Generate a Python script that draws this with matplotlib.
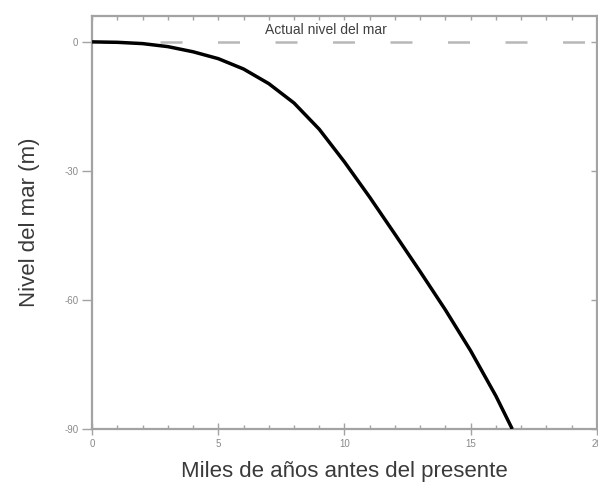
import numpy as np
import matplotlib.pyplot as plt
from matplotlib.ticker import MultipleLocator

# curva del nivel del mar (miles de años, metros)
edad = [0, 1, 2, 3, 4, 5, 6, 7, 8, 9, 10, 11, 12, 13, 14, 15, 16, 16.65]
nivel = [0, -0.1, -0.4, -1.1, -2.3, -3.9, -6.3, -9.7, -14.2, -20.3, -27.9, -36.1,
         -44.7, -53.4, -62.3, -71.8, -82.3, -90.0]

xticks = [0, 5, 10, 15, 20]
xlabels = ['0', '5', '10', '15', '20']
yticks = [0, -30, -60, -90]
ylabels = ['0', '-30', '-60', '-90']

gris = '#a3a3a3'
plt.rcParams['font.family'] = ['Liberation Sans', 'DejaVu Sans']

fig = plt.figure(figsize=(5.98, 4.87), dpi=100)
ax = fig.add_axes([0.154, 0.119, 0.844, 0.848])

ax.plot([0, 20], [0, 0], color='#b8b8b8', lw=1.8, linestyle=(18.8, (8.8, 14.2)), zorder=1)
ax.plot(edad, nivel, color='black', lw=2.5, solid_capstyle='butt',
        solid_joinstyle='round', zorder=3)
ax.text(9.25, 2.8, 'Actual nivel del mar', ha='center', va='center',
        fontsize=10, color='#404040')

ax.set_xlim(0, 20)
ax.set_ylim(-90, 6)
ax.set_xticks(xticks, xlabels)
ax.set_yticks(yticks, ylabels)
ax.xaxis.set_minor_locator(MultipleLocator(1))

for s in ax.spines.values():
    s.set_color(gris)
    s.set_linewidth(1.6)

ax.tick_params(axis='x', which='major', direction='inout', length=9, width=1, colors=gris,
               labelcolor='#8a8a8a', labelsize=7, pad=3)
ax.tick_params(axis='x', which='minor', direction='in', length=3, width=1, colors=gris)
ax.tick_params(axis='y', which='major', direction='out', length=7, width=1, colors=gris,
               labelcolor='#8a8a8a', labelsize=7, pad=3)

# ticks interiores arriba y a la derecha
top = ax.secondary_xaxis('top')
top.set_xticks(np.arange(0, 21, 1), [])
top.tick_params(direction='in', length=3, width=1, colors=gris)
top.spines['top'].set_visible(False)
right = ax.secondary_yaxis('right')
right.set_yticks(yticks, [])
right.tick_params(direction='in', length=4, width=1, colors=gris)
right.spines['right'].set_visible(False)

ax.set_xlabel('Miles de años antes del presente', fontsize=16, color='#3a3a3a', labelpad=8)
ax.set_ylabel('Nivel del mar (m)', fontsize=16, color='#3a3a3a', labelpad=17)

fig.savefig('out.png', dpi=100)
